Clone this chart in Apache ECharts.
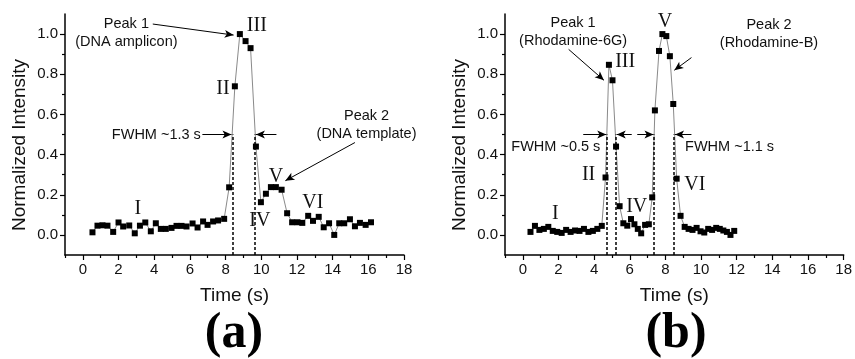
<!DOCTYPE html>
<html><head><meta charset="utf-8">
<script src="https://cdn.jsdelivr.net/npm/echarts@6/dist/echarts.min.js"></script>
<style>html,body{margin:0;padding:0;background:#fff}#c{width:855px;height:359px}</style>
</head><body><div id="c"></div>
<script>
// ---- data (a): DNA amplicon / template ----
const timeA = [0.54,0.82,1.1,1.38,1.7,2.0,2.26,2.6,2.91,3.2,3.5,3.81,4.09,4.37,4.65,4.97,5.25,5.53,5.81,6.15,6.43,6.74,6.99,7.3,7.58,7.92,8.2,8.52,8.8,9.12,9.4,9.7,9.98,10.26,10.54,10.82,11.14,11.45,11.73,12.03,12.3,12.63,12.9,13.22,13.5,13.8,14.09,14.37,14.65,14.97,15.25,15.53,15.85,16.15];
const intensityA = [0.013,0.046,0.048,0.046,0.015,0.062,0.042,0.047,0.008,0.046,0.062,0.018,0.058,0.03,0.03,0.035,0.045,0.045,0.042,0.057,0.037,0.067,0.05,0.067,0.072,0.08,0.237,0.74,1.0,0.965,0.93,0.44,0.163,0.205,0.238,0.238,0.225,0.108,0.063,0.063,0.06,0.095,0.07,0.09,0.038,0.058,0.0,0.058,0.058,0.078,0.043,0.06,0.05,0.063];
// ---- data (b): Rhodamine-6G / Rhodamine-B ----
const timeB = [0.43,0.68,0.93,1.18,1.43,1.68,1.93,2.18,2.43,2.68,2.93,3.18,3.43,3.68,3.93,4.18,4.43,4.64,4.83,5.03,5.23,5.43,5.64,5.86,6.07,6.26,6.45,6.64,6.86,7.07,7.26,7.41,7.64,7.83,8.05,8.25,8.44,8.63,8.85,9.08,9.3,9.52,9.75,9.97,10.18,10.4,10.62,10.85,11.05,11.25,11.45,11.65,11.86];
const intensityB = [0.015,0.045,0.025,0.03,0.04,0.02,0.015,0.01,0.025,0.015,0.022,0.02,0.03,0.015,0.02,0.03,0.045,0.286,0.847,0.77,0.44,0.143,0.058,0.046,0.079,0.053,0.03,0.008,0.05,0.053,0.187,0.62,0.916,1.0,0.99,0.89,0.652,0.28,0.095,0.04,0.03,0.025,0.035,0.018,0.012,0.03,0.025,0.035,0.03,0.022,0.015,0.0,0.02];
// ---- ticks ----
const xTickLabels = [0,2,4,6,8,10,12,14,16,18];
const xMinorTicks = [-1,1,3,5,7,9,11,13,15,17];
const yTickLabels = [0.0,0.2,0.4,0.6,0.8,1.0];
const yMinorTicks = [0.1,0.3,0.5,0.7,0.9];
// ---- FWHM boundaries ----
const fwhmA = [8.39, 9.64];
const fwhmB = [4.71, 5.22, 7.37, 8.49];

const SANS = "'Liberation Sans', Arial, Helvetica, sans-serif";
const SERIF = "'Liberation Serif', 'Times New Roman', serif";
const INK = '#111';

const chart = echarts.init(document.getElementById('c'));

function xAxes(g) {
  return [{
    type:'value', gridIndex:g, min:-1, max:18,
    axisLine:{show:true, onZero:false, lineStyle:{color:'#000', width:1.5}},
    axisTick:{show:true, customValues:xTickLabels, length:5, lineStyle:{color:'#000', width:1.2}},
    axisLabel:{customValues:xTickLabels, margin:7, fontSize:15, color:INK, fontFamily:SANS},
    splitLine:{show:false},
    name:'Time (s)', nameLocation:'middle', nameGap:31,
    nameTextStyle:{fontSize:19, color:INK, fontFamily:SANS}
  },{
    type:'value', gridIndex:g, min:-1, max:18, position:'bottom', offset:0,
    axisLine:{show:false, onZero:false},
    axisTick:{show:true, customValues:xMinorTicks, length:3, lineStyle:{color:'#000', width:1.2}},
    axisLabel:{show:false}, splitLine:{show:false}
  }];
}
function yAxes(g) {
  return [{
    type:'value', gridIndex:g, min:-0.1, max:1.1,
    axisLine:{show:true, onZero:false, lineStyle:{color:'#000', width:1.5}},
    axisTick:{show:true, customValues:yTickLabels, length:5, lineStyle:{color:'#000', width:1.2}},
    axisLabel:{customValues:yTickLabels, margin:7, fontSize:15, color:INK, fontFamily:SANS,
      formatter: v => Number(v).toFixed(1)},
    splitLine:{show:false}
  },{
    type:'value', gridIndex:g, min:-0.1, max:1.1, position:'left', offset:0,
    axisLine:{show:false, onZero:false},
    axisTick:{show:true, customValues:yMinorTicks, length:3, lineStyle:{color:'#000', width:1.2}},
    axisLabel:{show:false}, splitLine:{show:false}
  }];
}

function vline(x) {
  return [{coord:[x,-0.1], symbol:'none', lineStyle:{type:[3,2], width:1.5, color:'#000'}}, {coord:[x,0.5], symbol:'none'}];
}
function arrow(x1,y1,x2,y2) {
  return [{coord:[x1,y1], symbol:'none', lineStyle:{type:'solid', width:1, color:'#000'}}, {coord:[x2,y2], symbol:'arrow', symbolSize:[6,9]}];
}
function roman(t,x,y) {
  return {coord:[x,y], value:t, label:{formatter:t, fontFamily:SERIF, fontSize:20, color:INK}};
}
function note(t,x,y) {
  return {coord:[x,y], value:t, label:{formatter:t, fontFamily:SANS, fontSize:14.5, lineHeight:18, color:INK, align:'center'}};
}

function panelSeries(xi, yi, xs, ys, lines, points) {
  return {
    type:'line', xAxisIndex:xi, yAxisIndex:yi,
    data: xs.map((x,i) => [x, ys[i]]),
    symbol:'rect', symbolSize:6, showSymbol:true,
    itemStyle:{color:'#000'},
    lineStyle:{color:'#8a8a8a', width:1},
    emphasis:{disabled:true}, silent:true,
    markLine:{silent:true, animation:false, symbol:['none','none'], label:{show:false}, emphasis:{disabled:true}, data:lines},
    markPoint:{silent:true, animation:false, symbol:'circle', symbolSize:1, itemStyle:{color:'rgba(0,0,0,0)'},
      label:{show:true, position:'inside'}, emphasis:{disabled:true}, data:points}
  };
}

const seriesA = panelSeries(0, 0, timeA, intensityA,
  [vline(fwhmA[0]), vline(fwhmA[1]),
   arrow(6.7,0.5,8.33,0.5), arrow(10.85,0.5,9.7,0.5),
   arrow(3.92,1.05,8.45,0.995), arrow(15.25,0.46,11.35,0.27)],
  [roman('I',3.08,0.13), roman('II',7.85,0.73), roman('III',9.75,1.04), roman('IV',9.92,0.07),
   roman('V',10.82,0.29), roman('VI',12.89,0.16),
   note('Peak 1\n(DNA amplicon)',2.44,1.005), note('Peak 2\n(DNA template)',15.9,0.545),
   note('FWHM ~1.3 s',4.12,0.5)]);

const seriesB = panelSeries(2, 2, timeB, intensityB,
  [vline(fwhmB[0]), vline(fwhmB[1]), vline(fwhmB[2]), vline(fwhmB[3]),
   arrow(3.39,0.5,4.68,0.5), arrow(6.11,0.5,5.27,0.5),
   arrow(6.42,0.5,7.33,0.5), arrow(9.46,0.5,8.54,0.5),
   arrow(2.57,0.924,4.55,0.77), arrow(9.46,0.883,8.5,0.82)],
  [roman('I',1.83,0.107), roman('II',3.69,0.30), roman('III',5.74,0.86), roman('IV',6.39,0.14),
   roman('V',7.97,1.06), roman('VI',9.65,0.25),
   note('Peak 1\n(Rhodamine-6G)',2.82,1.01), note('Peak 2\n(Rhodamine-B)',13.81,1.0),
   note('FWHM ~0.5 s',1.85,0.437), note('FWHM ~1.1 s',11.6,0.436)]);

chart.setOption({
  animation:false,
  backgroundColor:'#fff',
  grid:[
    {left:65, top:14, width:339, height:241},
    {left:505, top:14, width:340, height:241}
  ],
  xAxis:[...xAxes(0), ...xAxes(1)],
  yAxis:[...yAxes(0), ...yAxes(1)],
  series:[seriesA, seriesB],
  graphic:[
    {type:'text', x:20, y:145, rotation:Math.PI/2,
     style:{text:'Normalized Intensity', fontSize:19, fontFamily:SANS, fill:INK, align:'center', verticalAlign:'middle'}},
    {type:'text', x:460, y:145, rotation:Math.PI/2,
     style:{text:'Normalized Intensity', fontSize:19, fontFamily:SANS, fill:INK, align:'center', verticalAlign:'middle'}},
    {type:'text', x:234, y:334,
     style:{text:'(a)', fontSize:50, fontWeight:'bold', fontFamily:SERIF, fill:'#000', align:'center', verticalAlign:'middle'}},
    {type:'text', x:676, y:334,
     style:{text:'(b)', fontSize:50, fontWeight:'bold', fontFamily:SERIF, fill:'#000', align:'center', verticalAlign:'middle'}}
  ]
});
</script>
</body></html>
